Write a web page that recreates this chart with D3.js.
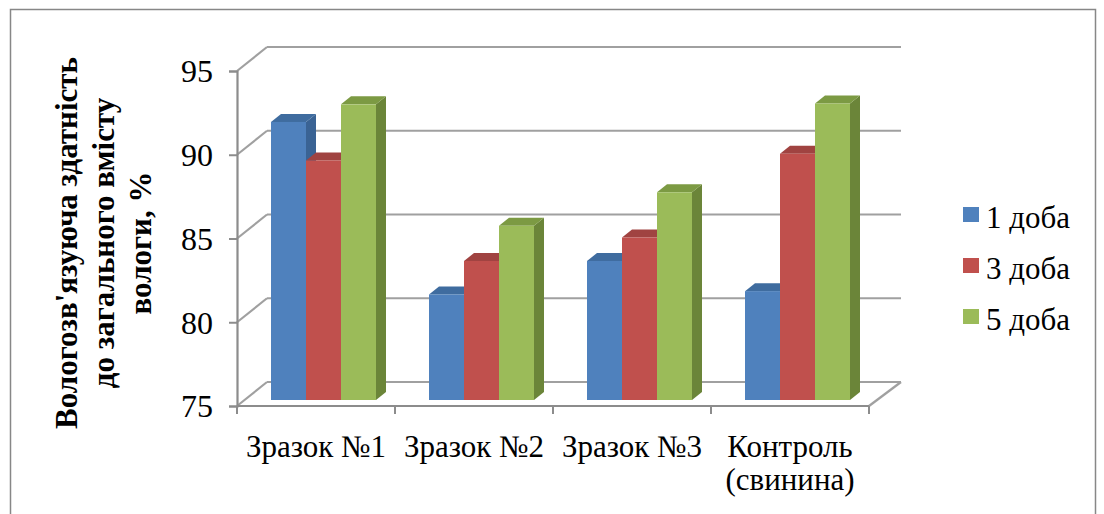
<!DOCTYPE html>
<html>
<head>
<meta charset="utf-8">
<script src="https://cdn.jsdelivr.net/npm/d3@7"></script>
<style>
  body { margin: 0; background: #fff; }
  svg { display: block; }
  svg text { font-family: "Liberation Serif", "Times New Roman", Tinos, "Nimbus Roman", "Nimbus Roman No9 L", FreeSerif, "Noto Serif", "DejaVu Serif", serif; }
</style>
</head>
<body>
<script>
// Data
const categories = ["Зразок №1", "Зразок №2", "Зразок №3", "Контроль\n(свинина)"];
const seriesNames = ["1 доба", "3 доба", "5 доба"];
const day1 = [91.6, 81.3, 83.3, 81.5];
const day3 = [89.3, 83.3, 84.7, 89.7];
const day5 = [92.65, 85.4, 87.4, 92.7];
const yTicks = [75, 80, 85, 90, 95];
const axisTitle = ["Вологозв'язуюча здатність", "до загального вмісту", "вологи, %"];

const seriesValues = [day1, day3, day5];
const colors = {
  front: ["#4F81BD", "#C0504D", "#9BBB59"],
  side:  ["#3A6394", "#953C3A", "#6B8539"],
  top:   ["#3F6C9F", "#A04341", "#7C9A43"]
};

const W = 1104, H = 514;
const svg = d3.select("body").append("svg").attr("width", W).attr("height", H);

// Front plane of the 3D box
const x = d3.scaleBand().domain(categories).range([237, 869]).paddingInner(0).paddingOuter(0);
const y = d3.scaleLinear().domain([75, 95]).range([406, 71]);
const inner = d3.scaleBand().domain(seriesNames).range([26.5, 131.5]).padding(0);

// Depth offsets: wall depth, bar placement inside the box, bar thickness
const DX = 30, DY = -24;
const BX = 7.5, BY = -6;
const dX = 10, dY = -8;

const gridColor = "#A0A0A0";
const axisColor = "#8C8C8C";

// Outer chart frame
svg.append("rect")
  .attr("x", 10.5).attr("y", 9.5)
  .attr("width", 1085).attr("height", 540)
  .attr("fill", "none").attr("stroke", "#878787").attr("stroke-width", 1.5);

const [x0, x1] = x.range();

// Back wall gridlines
svg.append("g").selectAll("line").data(yTicks).join("line")
  .attr("x1", x0 + DX).attr("x2", x1 + DX + 2)
  .attr("y1", d => y(d) + DY).attr("y2", d => y(d) + DY)
  .attr("stroke", gridColor).attr("stroke-width", 2.2);

// Side wall gridlines
svg.append("g").selectAll("line").data(yTicks).join("line")
  .attr("x1", x0).attr("x2", x0 + DX)
  .attr("y1", d => y(d)).attr("y2", d => y(d) + DY)
  .attr("stroke", gridColor).attr("stroke-width", 2.2);

// Right edge of the floor
svg.append("line")
  .attr("x1", x1).attr("y1", y(75))
  .attr("x2", x1 + DX + 2).attr("y2", y(75) + DY)
  .attr("stroke", gridColor).attr("stroke-width", 2.2);

// Bars (side, top, front faces), drawn left to right
const barsG = svg.append("g");
categories.forEach((c, i) => {
  seriesNames.forEach((s, j) => {
    const v = seriesValues[j][i];
    const left = x(c) + inner(s) + BX;
    const right = left + inner.bandwidth();
    const top = y(v) + BY;
    const bottom = y(75) + BY;
    // side face
    barsG.append("path")
      .attr("d", `M${right},${top}L${right + dX},${top + dY}L${right + dX},${bottom + dY}L${right},${bottom}Z`)
      .attr("fill", colors.side[j]);
    // top face
    barsG.append("path")
      .attr("d", `M${left},${top}L${left + dX},${top + dY}L${right + dX},${top + dY}L${right},${top}Z`)
      .attr("fill", colors.top[j]);
    // front face
    barsG.append("rect")
      .attr("x", left).attr("y", top)
      .attr("width", inner.bandwidth()).attr("height", bottom - top)
      .attr("fill", colors.front[j]);
  });
});

// Value axis
const yAxis = svg.append("g")
  .attr("transform", `translate(${x0},0)`)
  .call(d3.axisLeft(y).tickValues(yTicks).tickSize(8).tickPadding(16).tickFormat(d3.format("d")));
yAxis.attr("font-family", null);
yAxis.select(".domain").attr("stroke", axisColor).attr("stroke-width", 2.2);
yAxis.selectAll(".tick line").attr("stroke", axisColor).attr("stroke-width", 2);
yAxis.selectAll(".tick text")
  .attr("font-size", 32).attr("fill", "#000").attr("dy", "0.34em");

// Category axis line and tick marks between categories
svg.append("line")
  .attr("x1", x0).attr("x2", x1).attr("y1", y(75)).attr("y2", y(75))
  .attr("stroke", axisColor).attr("stroke-width", 2.2);
const edges = categories.map(c => x(c)).concat([x1]);
svg.append("g").selectAll("line").data(edges).join("line")
  .attr("x1", d => d).attr("x2", d => d)
  .attr("y1", y(75)).attr("y2", y(75) + 8)
  .attr("stroke", axisColor).attr("stroke-width", 2);

// Category labels
const catG = svg.append("g")
  .attr("font-size", 31).attr("fill", "#000").attr("text-anchor", "middle");
categories.forEach(c => {
  const t = catG.append("text").attr("x", x(c) + x.bandwidth() / 2).attr("y", 457);
  c.split("\n").forEach((line, k) => {
    t.append("tspan").attr("x", x(c) + x.bandwidth() / 2).attr("dy", k === 0 ? 0 : 33).text(line);
  });
});

// Value axis title
const title = svg.append("text")
  .attr("transform", "translate(0,243) rotate(-90)")
  .attr("font-size", 31).attr("font-weight", "bold").attr("fill", "#000")
  .attr("text-anchor", "middle");
axisTitle.forEach((line, k) => {
  title.append("tspan").attr("x", 0).attr("y", 77 + k * 37).text(line);
});

// Legend
const legend = svg.append("g")
  .attr("font-size", 31).attr("fill", "#000");
seriesNames.forEach((s, j) => {
  const gy = 207 + j * 51;
  legend.append("rect").attr("x", 963).attr("y", gy).attr("width", 16).attr("height", 15)
    .attr("fill", colors.front[j]);
  legend.append("text").attr("x", 986).attr("y", gy + 21).text(s);
});
</script>
</body>
</html>
